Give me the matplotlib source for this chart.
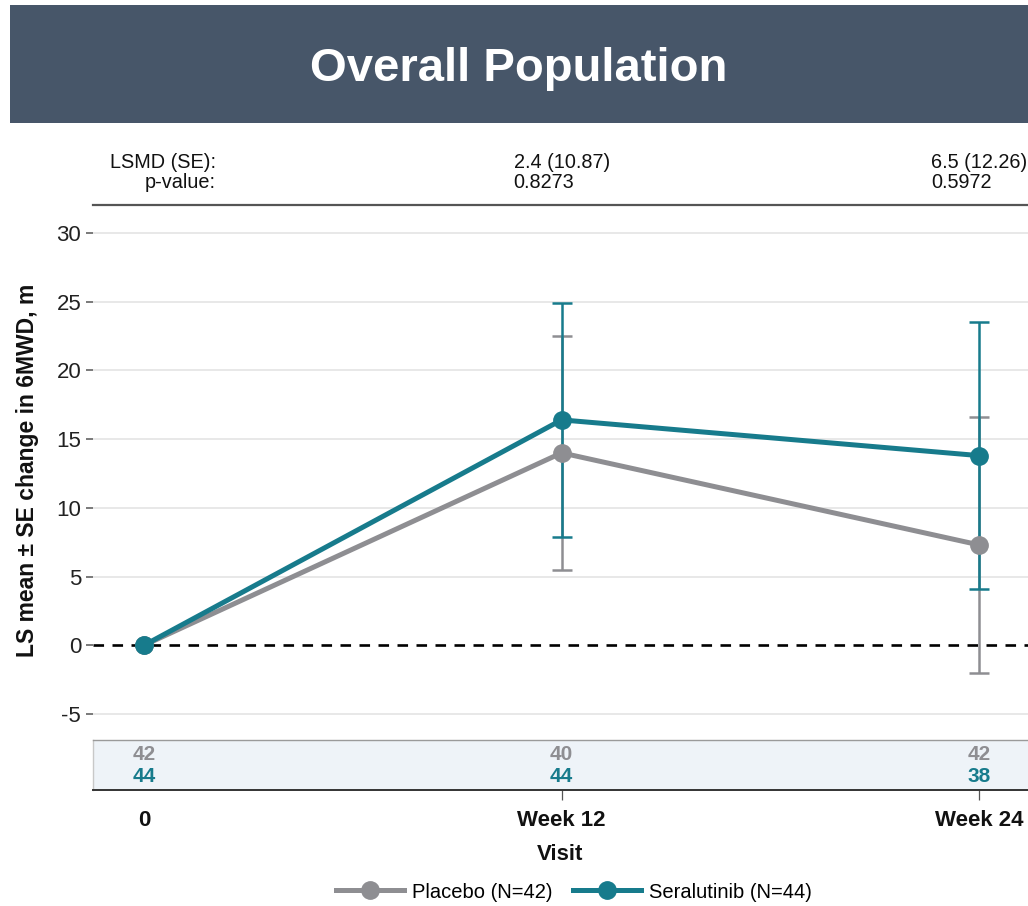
import matplotlib
matplotlib.use("Agg")
import matplotlib.pyplot as plt
from matplotlib.patches import Rectangle
from matplotlib.lines import Line2D
import matplotlib.transforms as mtransforms
from matplotlib import font_manager

plt.rcParams['font.family'] = ['Liberation Sans', 'DejaVu Sans']

# ---- data -------------------------------------------------------------
visits = [0, 12, 24]
visit_labels = ["0", "Week 12", "Week 24"]

placebo_mean = [0.0, 14.0, 7.3]
placebo_se = [0.0, 8.5, 9.3]
seral_mean = [0.0, 16.4, 13.8]
seral_se = [0.0, 8.5, 9.7]

placebo_n = [42, 40, 42]
seral_n = [44, 44, 38]

lsmd_text = ["", "2.4 (10.87)", "6.5 (12.26)"]
pvalue_text = ["", "0.8273", "0.5972"]

placebo_label = "Placebo (N=42)"
seral_label = "Seralutinib (N=44)"
title = "Overall Population"
ylabel = "LS mean \u00b1 SE change in 6MWD, m"
xlabel = "Visit"
yticks = [-5, 0, 5, 10, 15, 20, 25, 30]

# ---- style ------------------------------------------------------------
GRAY = "#8e8e92"
TEAL = "#177b8c"
BANNER = "#475669"

# narrow face for the patient counts, if available
try:
    font_manager.findfont(font_manager.FontProperties(family="Liberation Sans Narrow",
                                                      weight="bold"),
                          fallback_to_default=False)
    n_family, n_size = "Liberation Sans Narrow", 16
except Exception:
    n_family, n_size = "Liberation Sans", 15

W, H = 1028, 906
fig = plt.figure(figsize=(W / 100, H / 100), dpi=100)


def fx(px):
    return px / W


def fy(py):
    return 1 - py / H


# banner with title
fig.patches.append(Rectangle((fx(10), fy(123)), 1 - fx(10), fy(5) - fy(123),
                             transform=fig.transFigure, facecolor=BANNER,
                             edgecolor="none", zorder=0))
fig.text(fx(519), fy(69), title, color="white", fontsize=34,
         fontweight="bold", ha="center", va="center")

ax_left, ax_right = 93, 1028
xlim = (-1.466, 25.40)

# main plot
ax = fig.add_axes([fx(ax_left), fy(735), fx(ax_right - ax_left), fy(215) - fy(735)])
ax.set_xlim(*xlim)
ax.set_ylim(-6.53, 31.31)
for s in ax.spines.values():
    s.set_visible(False)
ax.set_yticks(yticks)
ax.set_yticklabels([str(t) for t in yticks])
ax.tick_params(axis="y", length=5, width=1.1, color="#555555", pad=3.5,
               labelsize=16, labelcolor="#222222")
ax.set_xticks([])
for t in yticks:
    if t != 0:
        ax.axhline(t, color="#e6e6e6", lw=1.3, zorder=0)
ax.axhline(0, color="black", lw=1.9, ls=(0, (4, 3.2)), zorder=1)

ax.errorbar(visits[1:], placebo_mean[1:], yerr=placebo_se[1:], fmt="none",
            ecolor=GRAY, elinewidth=1.8, capsize=7.5, capthick=1.8, zorder=2)
ax.errorbar(visits[1:], seral_mean[1:], yerr=seral_se[1:], fmt="none",
            ecolor=TEAL, elinewidth=1.8, capsize=7.5, capthick=1.8, zorder=3)
ax.plot(visits, placebo_mean, color=GRAY, lw=3.6, marker="o", ms=12.5, zorder=4)
ax.plot(visits, seral_mean, color=TEAL, lw=3.6, marker="o", ms=12.5, zorder=5)

fig.text(fx(28), fy(470), ylabel, rotation=90, ha="center", va="center",
         fontsize=16.5, fontweight="bold", color="#111111")

# header with treatment differences
hx = fig.add_axes([fx(ax_left), fy(205), fx(ax_right - ax_left), fy(140) - fy(205)])
hx.set_xlim(*xlim)
hx.set_ylim(0, 1)
hx.axis("off")
hx.add_line(Line2D([0, 1], [0, 0], transform=hx.transAxes, color="#555555",
                   lw=1.6, clip_on=False))
hfont = dict(fontsize=14.3, color="#111111")
fig.text(fx(216), fy(163), "LSMD (SE):", ha="right", va="center", **hfont)
fig.text(fx(216), fy(183), "p-value:", ha="right", va="center", **hfont)
off = mtransforms.ScaledTranslation(-48 / 100, 0, fig.dpi_scale_trans)
for v, l, p in zip(visits, lsmd_text, pvalue_text):
    if l:
        tr = mtransforms.blended_transform_factory(hx.transData, fig.transFigure) + off
        fig.text(v, fy(163), l, ha="left", va="center", transform=tr, **hfont)
        fig.text(v, fy(183), p, ha="left", va="center", transform=tr, **hfont)

# patients-at-visit table
tx = fig.add_axes([fx(ax_left), fy(790), fx(ax_right - ax_left), fy(740) - fy(790)])
tx.set_xlim(*xlim)
tx.set_ylim(0, 1)
tx.set_facecolor("#eef3f8")
tx.spines["top"].set_color("#9a9a9a")
tx.spines["top"].set_linewidth(1.0)
tx.spines["left"].set_color("#c8c8c8")
tx.spines["left"].set_linewidth(1.0)
tx.spines["right"].set_visible(False)
tx.spines["bottom"].set_color("#333333")
tx.spines["bottom"].set_linewidth(1.4)
tx.set_yticks([])
tx.set_xticks(visits)
tx.set_xticklabels(visit_labels, fontsize=16, fontweight="bold", color="#111111")
tx.tick_params(axis="x", length=7, width=0.9, color="#555555", pad=7.5)
tx.xaxis.get_major_ticks()[0].tick1line.set_visible(False)
for v, a, b in zip(visits, placebo_n, seral_n):
    tx.text(v, 0.72, str(a), ha="center", va="center", fontsize=n_size,
            fontweight="bold", color=GRAY, family=[n_family, "DejaVu Sans"])
    tx.text(v, 0.28, str(b), ha="center", va="center", fontsize=n_size,
            fontweight="bold", color=TEAL, family=[n_family, "DejaVu Sans"])

fig.text(fx(560), fy(855), xlabel, ha="center", va="center", fontsize=16,
         fontweight="bold", color="#111111")

handles = [Line2D([], [], color=GRAY, lw=3.6, marker="o", ms=12.5),
           Line2D([], [], color=TEAL, lw=3.6, marker="o", ms=12.5)]
fig.legend(handles, [placebo_label, seral_label], loc="center",
           bbox_to_anchor=(fx(574), fy(892)), ncol=2, frameon=False,
           fontsize=14.5, handlelength=3.4, columnspacing=1.0, handletextpad=0.4)

fig.savefig("out.png", dpi=100)
